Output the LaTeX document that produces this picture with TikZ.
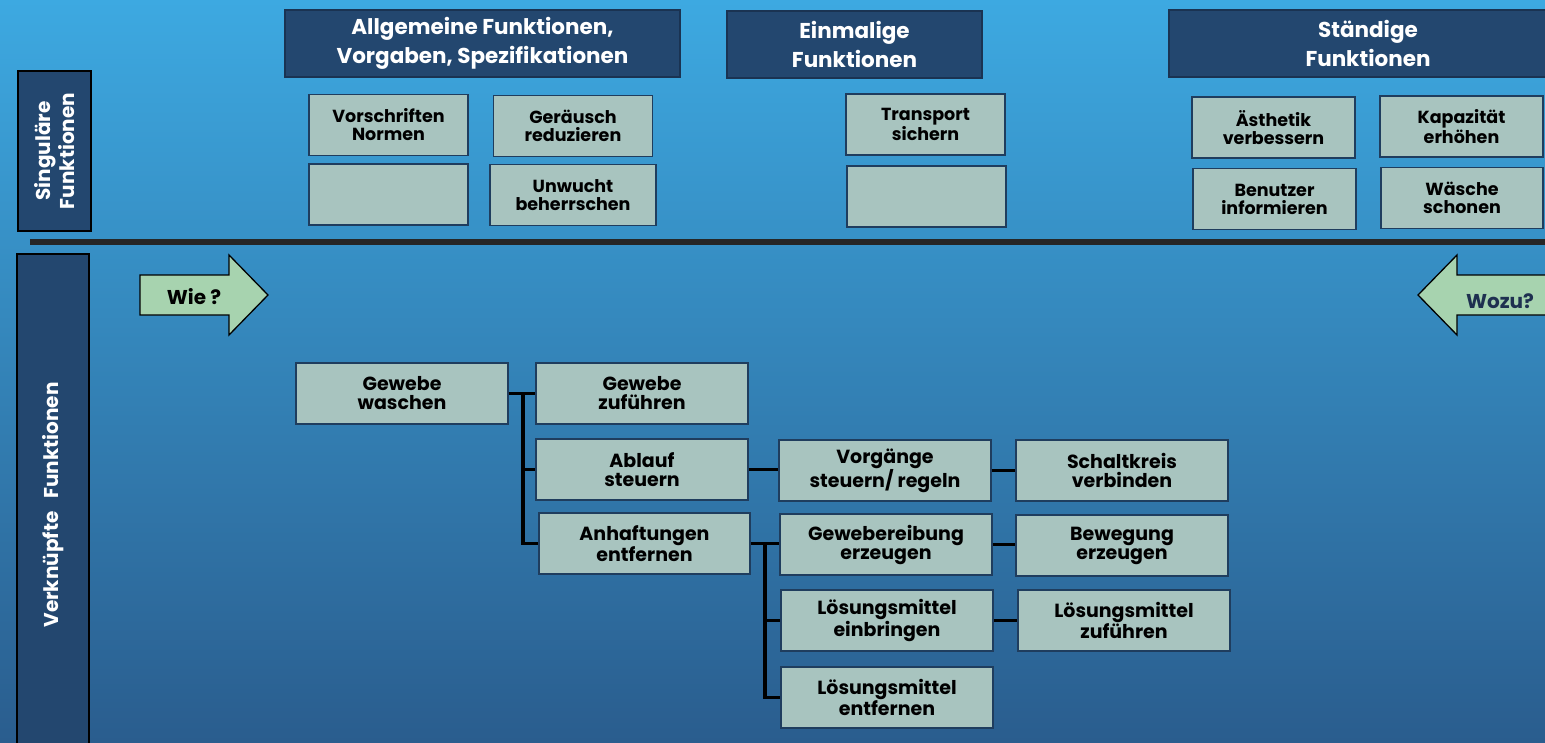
\documentclass[tikz,border=0pt]{standalone}
\usepackage{fontspec}
\setmainfont{Poppins}
\usetikzlibrary{calc}

\definecolor{bgtop}{HTML}{3DA9E1}
\definecolor{bgbot}{HTML}{2A5D8E}
\definecolor{navy}{HTML}{23476F}
\definecolor{navyline}{HTML}{1A3352}
\definecolor{boxfill}{HTML}{A8C4BF}
\definecolor{boxline}{HTML}{1F3D5E}
\definecolor{arrowfill}{HTML}{A7D3AF}
\definecolor{rule}{HTML}{262626}
\definecolor{wozutext}{HTML}{1E3050}

\tikzset{
  head/.style={draw=navyline, line width=1.2pt, fill=navy, text=white,
    inner sep=0pt, align=center, font=\bfseries\fontsize{21.5}{29}\selectfont},
  side/.style={draw=black, line width=1.2pt, fill=navy, text=white,
    inner sep=0pt, align=center},
  sidetext/.style={rotate=90, text=white, align=center,
    font=\bfseries\fontsize{20}{24}\selectfont},
  small/.style={draw=boxline, line width=1.4pt, fill=boxfill, text=black,
    inner sep=0pt, align=center, minimum width=159pt, minimum height=61pt,
    font=\bfseries\fontsize{17.5}{18}\selectfont},
  fbx/.style={draw=boxline, line width=1.4pt, fill=boxfill, text=black,
    inner sep=0pt, align=center, minimum width=212pt, minimum height=61pt,
    font=\bfseries\fontsize{19}{19}\selectfont},
  conn/.style={draw=black, line width=3.2pt},
  bigarrow/.style={draw=black, line width=1.3pt, fill=arrowfill},
  arrowtext/.style={font=\bfseries\fontsize{20}{20}\selectfont},
}

\begin{document}
\begin{tikzpicture}[x=1pt, y=-1pt]
\useasboundingbox (0,0) rectangle (1545,742);
\clip (0,0) rectangle (1545,742);
\shade[top color=bgtop, bottom color=bgbot] (0,0) rectangle (1545,742);

% column headers
\node[head, minimum width=395pt, minimum height=67pt] (h1) at (482.5,43.5)
  {Allgemeine Funktionen,\\Vorgaben, Spezifikationen};
\node[head, minimum width=255pt, minimum height=67pt] (h2) at (854.5,44.5)
  {Einmalige\\Funktionen};
\node[head, minimum width=398pt, minimum height=67pt] (h3) at (1368,43.5)
  {Ständige\\Funktionen};

% row labels
\node[side, minimum width=73pt, minimum height=160pt] (s1) at (54.5,151) {};
\node[sidetext] (s1t) at (s1.center) {Singuläre\\Funktionen};
\node[side, minimum width=72pt, minimum height=500pt] (s2) at (53,504) {};
\node[sidetext] (s2t) at (53,505) {Verknüpfte\ \ \ Funktionen};

% separator
\draw[rule, line width=6pt] (30,241.5) -- (1560,241.5);

% singular functions
\node[small] (vn) at (388.5,125) {Vorschriften\\Normen};
\node[small] (e1) at (388.5,194.5) {};
\node[small] (gr1) at (573,126) {Geräusch\\reduzieren};
\node[small, minimum width=166pt] (ub) at (573,195) {Unwucht\\beherrschen};
\node[small] (ts) at (925.5,124.5) {Transport\\sichern};
\node[small] (e2) at (926.5,196.5) {};
\node[small, minimum width=163pt] (av) at (1273.5,127.5) {Ästhetik\\verbessern};
\node[small, minimum width=163pt] (ke) at (1461.5,126.5) {Kapazität\\erhöhen};
\node[small, minimum width=163pt] (bi) at (1274.5,199) {Benutzer\\informieren};
\node[small, minimum width=162pt] (ws) at (1462,198) {Wäsche\\schonen};

% direction arrows
\draw[bigarrow] (140,275) -- (229,275) -- (229,255) -- (268,295)
  -- (229,335) -- (229,315) -- (140,315) -- cycle;
\node[arrowtext, text=black] (wie) at (194,297) {Wie ?};
\draw[bigarrow] (1560,275) -- (1457,275) -- (1457,255) -- (1418,295)
  -- (1457,335) -- (1457,315) -- (1560,315) -- cycle;
\node[arrowtext, text=wozutext] (wozu) at (1500,301) {Wozu?};

% linked functions
\node[fbx] (gw) at (402,393.5) {Gewebe\\waschen};
\node[fbx] (gz) at (642,393.5) {Gewebe\\zuführen};
\node[fbx] (ab) at (642,469.5) {Ablauf\\steuern};
\node[fbx, minimum width=211pt] (an) at (644.5,543.5) {Anhaftungen\\entfernen};
\node[fbx] (vs) at (885,470.5) {Vorgänge\\steuern/ regeln};
\node[fbx] (sv) at (1122,470.5) {Schaltkreis\\verbinden};
\node[fbx] (ge) at (886,544.5) {Gewebereibung\\erzeugen};
\node[fbx] (be) at (1122,545.5) {Bewegung\\erzeugen};
\node[fbx] (lei) at (887,620.5) {Lösungsmittel\\einbringen};
\node[fbx] (lz) at (1124,620.5) {Lösungsmittel\\zuführen};
\node[fbx] (len) at (887,697.5) {Lösungsmittel\\entfernen};

% tree connectors
\coordinate (j1) at (523,393.5);
\draw[conn] (gw.east) -- (gz.west);
\draw[conn] (j1) |- (an.west);
\draw[conn] (j1 |- ab.west) -- (ab.west);
\draw[conn] (ab.east) -- (ab.east -| vs.west);
\draw[conn] (vs.east) -- (vs.east -| sv.west);
\coordinate (j2) at (765,543.5);
\draw[conn] (an.east) -- (an.east -| ge.west);
\draw[conn] (j2) |- (len.west);
\draw[conn] (j2 |- lei.west) -- (lei.west);
\draw[conn] (ge.east) -- (ge.east -| be.west);
\draw[conn] (lei.east) -- (lei.east -| lz.west);
\end{tikzpicture}
\end{document}
